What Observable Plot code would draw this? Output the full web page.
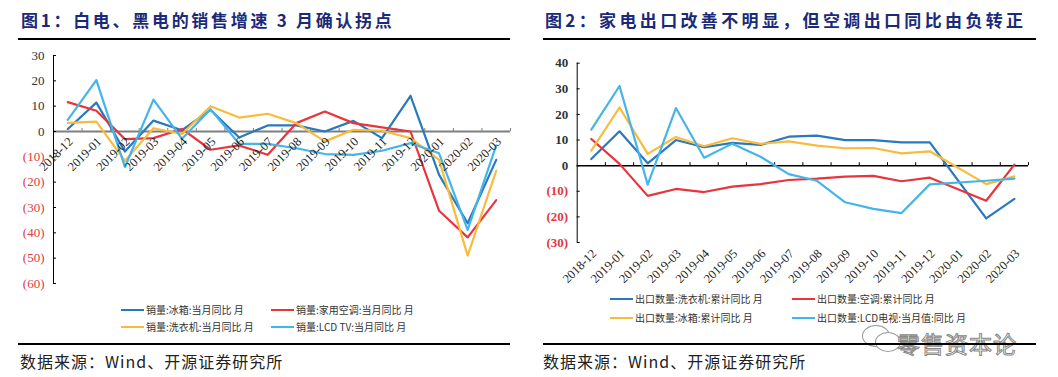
<!DOCTYPE html>
<html><head><meta charset="utf-8">
<script src="https://cdn.jsdelivr.net/npm/d3@7"></script>
<script src="https://cdn.jsdelivr.net/npm/@observablehq/plot@0.6"></script>
<style>
body{margin:0;background:#fff;width:1058px;height:377px;position:relative;overflow:hidden;font-family:"Noto Sans CJK SC",sans-serif}
.abs{position:absolute}
.title{color:#1b2a78;font-weight:bold;font-size:17px;line-height:24px;white-space:nowrap}
.hr{height:1.6px;background:#000}
.src{font-size:16px;line-height:20px;color:#222;white-space:nowrap;letter-spacing:1px}
.leg{font-size:10px;line-height:12px;color:#333;display:flex;align-items:center;white-space:nowrap}
.leg i{display:inline-block;width:23px;height:2.5px;margin-right:2px}
svg{overflow:visible}
.wm{font-size:23px;color:#fff;-webkit-text-stroke:1px #888;white-space:nowrap;line-height:23px;letter-spacing:1px}
.bub{border:1.2px solid #999;border-radius:50%;background:#fff}
</style></head>
<body>
<script>
// ---------- DATA ----------
const months = ["2018-12","2019-01","2019-02","2019-03","2019-04","2019-05","2019-06","2019-07","2019-08","2019-09","2019-10","2019-11","2019-12","2020-01","2020-02","2020-03"];

// Figure 1: sales YoY (monthly)
const leftNames = ["销量:冰箱:当月同比 月","销量:家用空调:当月同比 月","销量:洗衣机:当月同比 月","销量:LCD TV:当月同比 月"];
const salesFridge = [1, 11.4, -7.9, 4.3, 0.5, 8.5, -2.4, 2.4, 2.4, 0, 4.2, -2.6, 14.1, -17.1, -36.2, -11.2];
const salesAC     = [11.6, 8.2, -3, -2.6, 1, -7.2, -5.5, -9.2, 3.3, 7.9, 3.3, 1.6, 0, -31.3, -41.8, -27.1];
const salesWasher = [3.4, 3.9, -11.6, 1.3, -1, 10, 5.5, 7, 3.3, -3.9, 0.7, 0.3, -2.6, -11.2, -49, -15.5];
const salesLCD    = [4.6, 20.3, -14, 12.6, -2.9, 8.8, -4.9, -4.9, -6.6, -8.9, -9.2, -7.6, -4.6, -8.6, -38.8, -5.5];
const leftTicks = [30, 20, 10, 0, -10, -20, -30, -40, -50, -60];

// Figure 2: export YoY (2020-01 not reported)
const rightNames = ["出口数量:洗衣机:累计同比 月","出口数量:空调:累计同比 月","出口数量:冰箱:累计同比 月","出口数量:LCD电视:当月值:同比 月"];
const expWasher = [2.6, 13.4, 0.9, 10, 7.2, 8.9, 8.1, 11.3, 11.7, 10, 10, 9.1, 9.1, null, -20.6, -13];
const expAC     = [10.4, 0.7, -11.8, -9.1, -10.3, -8.2, -7.2, -5.6, -5.1, -4.3, -4, -6.1, -4.7, null, -13.7, 0.4];
const expFridge = [5.9, 22.7, 4.6, 11.2, 7.6, 10.7, 8.5, 9.5, 7.8, 6.8, 6.9, 4.8, 5.6, null, -7.2, -4.2];
const expLCD    = [14.1, 31.1, -7.4, 22.5, 3.1, 8.6, 3.5, -3.3, -5.9, -14.3, -16.9, -18.5, -7.3, null, -5.9, -5.1];
const rightTicks = [40, 30, 20, 10, 0, -10, -20, -30];

const seriesColors = ["#2a78bd", "#e8343a", "#f9bb3b", "#45b4e8"];
const negColor = "#e0393e";

// ---------- helpers ----------
const fmt = v => v < 0 ? `(${-v})` : `${v}`;
function rows(arrs){
  const out = [];
  arrs.forEach((a, s) => a.forEach((v, i) => { if (v != null) out.push({i, value: v, color: seriesColors[s], s}); }));
  return out;
}
function place(node, left, top){ node.style.position="absolute"; node.style.left=left+"px"; node.style.top=top+"px"; document.body.appendChild(node); }
function div(cls, text, left, top, extra){ const d=document.createElement("div"); d.className="abs "+cls; if(text!=null) d.textContent=text; d.style.left=left+"px"; d.style.top=top+"px"; if(extra) Object.assign(d.style, extra); document.body.appendChild(d); return d; }

function panel({data, ticks, yDomain, width, height, ml, mr, mt, mb, labelY, labelDy, axisStroke, axisW, bold}){
  const idx = months.map((m,i)=>({i, m}));
  const bounds = months.map((m,i)=>i+0.5);
  const tickUnit = (yDomain[1]-yDomain[0]) / (height-mt-mb) * 3;
  return Plot.plot({
    width, height, marginLeft: ml, marginRight: mr, marginTop: mt, marginBottom: mb,
    x: {domain: [-0.5, months.length-0.5], axis: null},
    y: {domain: yDomain, axis: null},
    color: {type: "identity"},
    style: {background: "transparent", overflow: "visible"},
    marks: [
      Plot.ruleY([0], {stroke: axisStroke, strokeWidth: axisW}),
      Plot.ruleX(bounds, {x: d=>d, y1: 0, y2: tickUnit, stroke: axisStroke, strokeWidth: 1}),
      Plot.ruleX([-0.5], {stroke: "#000", strokeWidth: 1}),
      Plot.ruleY(ticks, {y: d=>d, x1: -0.5, x2: -0.5 + 3*months.length/(width-ml-mr), stroke:"#000"}),
      Plot.text(ticks, {y: d=>d, text: fmt, frameAnchor: "left", textAnchor: "end", dx: -9,
        fill: d => d < 0 ? negColor : "#333", fontSize: 13, fontFamily: "Liberation Serif", fontWeight: bold ? "bold" : "normal"}),
      Plot.line(data, {x: "i", y: "value", z: "s", stroke: "color", strokeWidth: 2.2}),
      Plot.text(idx, {x: "i", y: labelY, text: "m", rotate: -45, textAnchor: "end", dx: 3, dy: labelDy,
        fontSize: 12.5, fontFamily: "Liberation Serif", fill: "#222"})
    ]
  });
}

// ---------- Figure 1 ----------
div("title", "图1：白电、黑电的销售增速 3 月确认拐点", 21, 8, {letterSpacing: "2.7px"});
div("hr", null, 18, 38, {width: "492px"});
place(panel({data: rows([salesFridge, salesAC, salesWasher, salesLCD]), ticks: leftTicks, yDomain: [-60, 30],
  width: 530, height: 245, ml: 53, mr: 20, mt: 10, mb: 7, labelY: 0, labelDy: 8, axisStroke: "#7f7f7f", axisW: 1.8, bold: false}), 0, 45);

// legends
function legend(names, pos){
  names.forEach((n, k) => {
    const d = div("leg", null, pos[k][0], pos[k][1] - 6);
    const i = document.createElement("i"); i.style.background = seriesColors[k]; d.appendChild(i);
    const t = document.createElement("span"); t.textContent = n; d.appendChild(t);
  });
}
legend(leftNames, [[121, 310], [271, 310], [121, 327], [271, 327]]);
div("hr", null, 18, 343, {width: "492px"});
div("src", "数据来源：Wind、开源证券研究所", 20, 351);

// ---------- Figure 2 ----------
div("title", "图2：家电出口改善不明显，但空调出口同比由负转正", 545, 8, {letterSpacing: "3.35px"});
div("hr", null, 543, 38, {width: "493px"});
place(panel({data: rows([expWasher, expAC, expFridge, expLCD]), ticks: rightTicks, yDomain: [-30, 40],
  width: 528, height: 205, ml: 46.7, mr: 30, mt: 17.7, mb: 8, labelY: -30, labelDy: 9, axisStroke: "#000", axisW: 1.5, bold: true}), 530, 45);
legend(rightNames, [[610, 299], [792, 299], [610, 318], [792, 318]]);

// watermark
div("bub", null, 862, 325, {width: "26px", height: "20px"});
div("bub", null, 875, 332, {width: "24px", height: "18px"});
div("wm", "零售资本论", 897, 332);

div("hr", null, 543, 343, {width: "493px"});
div("src", "数据来源：Wind、开源证券研究所", 543, 351);
</script>
</body></html>
